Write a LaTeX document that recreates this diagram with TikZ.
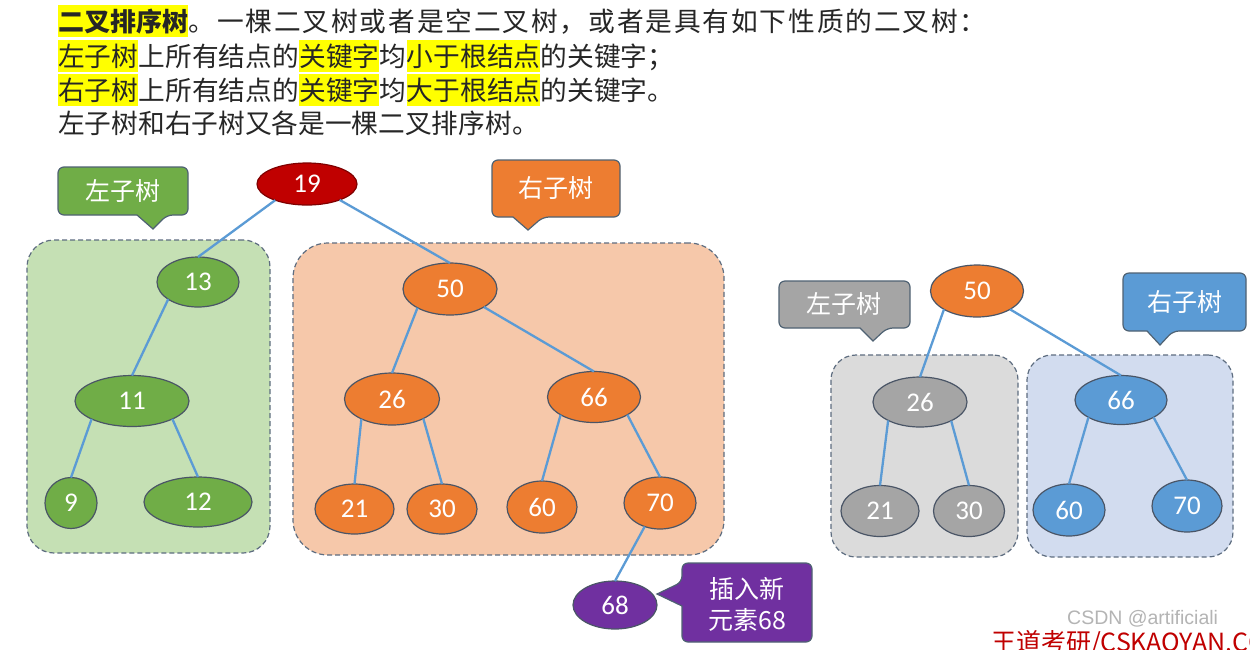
\documentclass[tikz,border=0pt]{standalone}
\usepackage{fontspec}
\setmainfont{Noto Sans CJK SC}
\newfontfamily\numfont{Carlito}
\newfontfamily\latinfont{Liberation Sans}
\usetikzlibrary{shapes.geometric}

\definecolor{ink}{HTML}{262626}
\definecolor{hlyellow}{HTML}{FFFF00}
\definecolor{edgeblue}{HTML}{5B9BD5}
\definecolor{nodeline}{HTML}{4A5566}
\definecolor{boxline}{HTML}{5E6D80}
\definecolor{tipline}{HTML}{4F6273}
\definecolor{rootred}{HTML}{C00000}
\definecolor{rootline}{HTML}{7F0000}
\definecolor{kgreen}{HTML}{70AD47}
\definecolor{korange}{HTML}{ED7D31}
\definecolor{kgray}{HTML}{A5A5A5}
\definecolor{kblue}{HTML}{5B9BD5}
\definecolor{kpurple}{HTML}{7030A0}
\definecolor{bgreen}{HTML}{C5E0B4}
\definecolor{borange}{HTML}{F6C8AA}
\definecolor{bgray}{HTML}{DBDBDB}
\definecolor{bblue}{HTML}{D2DCEF}
\definecolor{wdred}{HTML}{C00000}
\definecolor{wmgray}{HTML}{B4B4B4}

% speech bubble with a pointer on its lower edge:
% #1 style, #2 left, #3 top, #4 right, #5 bottom, #6/#7 pointer base, #8/#9 tip
\newcommand\bubbledown[9]{%
  \draw[#1] (#8,#9) -- (#6,#5) [rounded corners=6pt] -- (#2,#5) -- (#2,#3)
    -- (#4,#3) -- (#4,#5) -- (#7,#5) [sharp corners] -- cycle;}

\begin{document}
\begin{tikzpicture}[x=1pt,y=-1pt,
  titleline/.style={anchor=west, inner xsep=0pt, inner ysep=2.65pt,
    text height=23.5pt, text depth=3.2pt, text=ink,
    font=\fontsize{26.7}{30}\selectfont},
  hl/.style={fill=hlyellow},
  key/.style={ellipse, draw=nodeline, line width=1.2pt, inner sep=0pt,
    outer sep=0pt, text=white, font=\numfont\fontsize{27}{27}\selectfont},
  edge/.style={draw=edgeblue, line width=2.3pt},
  region/.style={draw=boxline, line width=1.2pt, dash pattern=on 5pt off 3pt,
    inner sep=0pt, outer sep=0pt},
  bubble/.style={draw=tipline, line width=1.2pt},
  bubbletext/.style={text=white, inner sep=0pt, align=center,
    font=\fontsize{25}{31}\selectfont}
]
\useasboundingbox (0,0) rectangle (1250,649);
\fill[white] (0,0) rectangle (1250,649);

% ---- definition text ----
\node[titleline, hl, font=\bfseries\fontsize{26}{30}\selectfont] (t1a) at (58,21) {二叉排序树};
\node[titleline, font=\addfontfeature{LetterSpace=7}\fontsize{26.7}{30}\selectfont]
  (t1b) at (t1a.east) {。一棵二叉树或者是空二叉树，或者是具有如下性质的二叉树：};

\node[titleline, hl] (t2a) at (58,56) {左子树};
\node[titleline] (t2b) at (t2a.east) {上所有结点的};
\node[titleline, hl] (t2c) at (t2b.east) {关键字};
\node[titleline] (t2d) at (t2c.east) {均};
\node[titleline, hl] (t2e) at (t2d.east) {小于根结点};
\node[titleline] (t2f) at (t2e.east) {的关键字；};

\node[titleline, hl] (t3a) at (58,90) {右子树};
\node[titleline] (t3b) at (t3a.east) {上所有结点的};
\node[titleline, hl] (t3c) at (t3b.east) {关键字};
\node[titleline] (t3d) at (t3c.east) {均};
\node[titleline, hl] (t3e) at (t3d.east) {大于根结点};
\node[titleline] (t3f) at (t3e.east) {的关键字。};

\node[titleline] (t4) at (58,123) {左子树和右子树又各是一棵二叉排序树。};

% ---- subtree regions ----
\node[region, fill=bgreen, rounded corners=27pt, minimum width=243pt, minimum height=313pt] (boxL) at (148.5,396.5) {};
\node[region, fill=borange, rounded corners=35pt, minimum width=431pt, minimum height=312pt] (boxR) at (508.5,399) {};
\node[region, fill=bgray, rounded corners=25pt, minimum width=187pt, minimum height=202pt] (boxL2) at (924.5,456) {};
\node[region, fill=bblue, rounded corners=25pt, minimum width=206pt, minimum height=202pt] (boxR2) at (1130,456) {};

% ---- labels ----
\bubbledown{bubble, fill=kgreen}{58}{167}{188}{215}{137}{167}{153}{229}
\node[bubbletext] (lblL) at (123,191) {左子树};
\bubbledown{bubble, fill=korange}{492}{160}{620}{217}{513}{543}{528}{230}
\node[bubbletext] (lblR) at (556,188) {右子树};
\bubbledown{bubble, fill=kgray}{779}{281}{910}{328}{860}{887}{873}{341}
\node[bubbletext] (lblL2) at (844,304) {左子树};
\bubbledown{bubble, fill=kblue}{1123}{273}{1246}{331}{1147}{1173}{1160}{345}
\node[bubbletext] (lblR2) at (1185,302) {右子树};
\draw[bubble, fill=kpurple] (657,594) -- (682,606) [rounded corners=6pt]
  -- (682,642) -- (812,642) -- (812,563) -- (682,563) -- (682,582) [sharp corners] -- cycle;
\node[bubbletext] (lblNew) at (747,604) {插入新\\元素68};

% ---- the whole tree ----
\node[key, fill=rootred, draw=rootline, minimum width=100pt, minimum height=42pt] (a19) at (307,184) {19};
\node[key, fill=kgreen, minimum width=82pt, minimum height=50pt] (a13) at (198,282) {13};
\node[key, fill=kgreen, minimum width=114pt, minimum height=51pt] (a11) at (132,401) {11};
\node[key, fill=kgreen, minimum width=52pt, minimum height=51pt] (a9) at (71,503) {9};
\node[key, fill=kgreen, minimum width=108pt, minimum height=50pt] (a12) at (198,502) {12};
\node[key, fill=korange, minimum width=94pt, minimum height=52pt] (a50) at (450,289) {50};
\node[key, fill=korange, minimum width=95pt, minimum height=52pt] (a26) at (392,399) {26};
\node[key, fill=korange, minimum width=93pt, minimum height=51pt] (a66) at (594,397) {66};
\node[key, fill=korange, minimum width=79pt, minimum height=50pt] (a21) at (354.5,509) {21};
\node[key, fill=korange, minimum width=70pt, minimum height=50pt] (a30) at (442,509) {30};
\node[key, fill=korange, minimum width=70pt, minimum height=52pt] (a60) at (542,507) {60};
\node[key, fill=korange, minimum width=72pt, minimum height=52pt] (a70) at (660,503) {70};
\node[key, fill=kpurple, minimum width=84pt, minimum height=48pt] (a68) at (615,605) {68};

\draw[edge] (a19.207) -- (a13.north);
\draw[edge] (a19.-26) -- (a50.north);
\draw[edge] (a13.210) -- (a11.north);
\draw[edge] (a11.204) -- (a9.north);
\draw[edge] (a11.-24) -- (a12.north);
\draw[edge] (a50.210) -- (a26.north);
\draw[edge] (a50.-28) -- (a66.north);
\draw[edge] (a26.213) -- (a21.north);
\draw[edge] (a26.-32) -- (a30.north);
\draw[edge] (a66.208) -- (a60.north);
\draw[edge] (a66.-28) -- (a70.north);
\draw[edge] (a70.237) -- (a68.north);

% ---- the subtree rooted at 50 ----
\node[key, fill=korange, minimum width=93pt, minimum height=52pt] (b50) at (977,291) {50};
\node[key, fill=kgray, minimum width=94pt, minimum height=50pt] (b26) at (920,402) {26};
\node[key, fill=kblue, minimum width=92pt, minimum height=49pt] (b66) at (1121,400) {66};
\node[key, fill=kgray, minimum width=78pt, minimum height=51pt] (b21) at (880,511) {21};
\node[key, fill=kgray, minimum width=71pt, minimum height=51pt] (b30) at (969,511) {30};
\node[key, fill=kblue, minimum width=72pt, minimum height=52pt] (b60) at (1069,510) {60};
\node[key, fill=kblue, minimum width=70pt, minimum height=52pt] (b70) at (1187,506) {70};

\draw[edge] (b50.209) -- (b26.north);
\draw[edge] (b50.-29) -- (b66.north);
\draw[edge] (b26.210) -- (b21.north);
\draw[edge] (b26.-31) -- (b30.north);
\draw[edge] (b66.208) -- (b60.north);
\draw[edge] (b66.-28) -- (b70.north);

% ---- credits ----
\node[anchor=west, inner sep=0pt, text=wdred, font=\fontsize{25}{25}\selectfont] (credit) at (991,643) {王道考研/CSKAOYAN.CO};
\node[anchor=base west, inner sep=0pt, text=wmgray, font=\latinfont\fontsize{19.5}{20}\selectfont] (mark) at (1067,624) {CSDN @artificiali};
\end{tikzpicture}
\end{document}
